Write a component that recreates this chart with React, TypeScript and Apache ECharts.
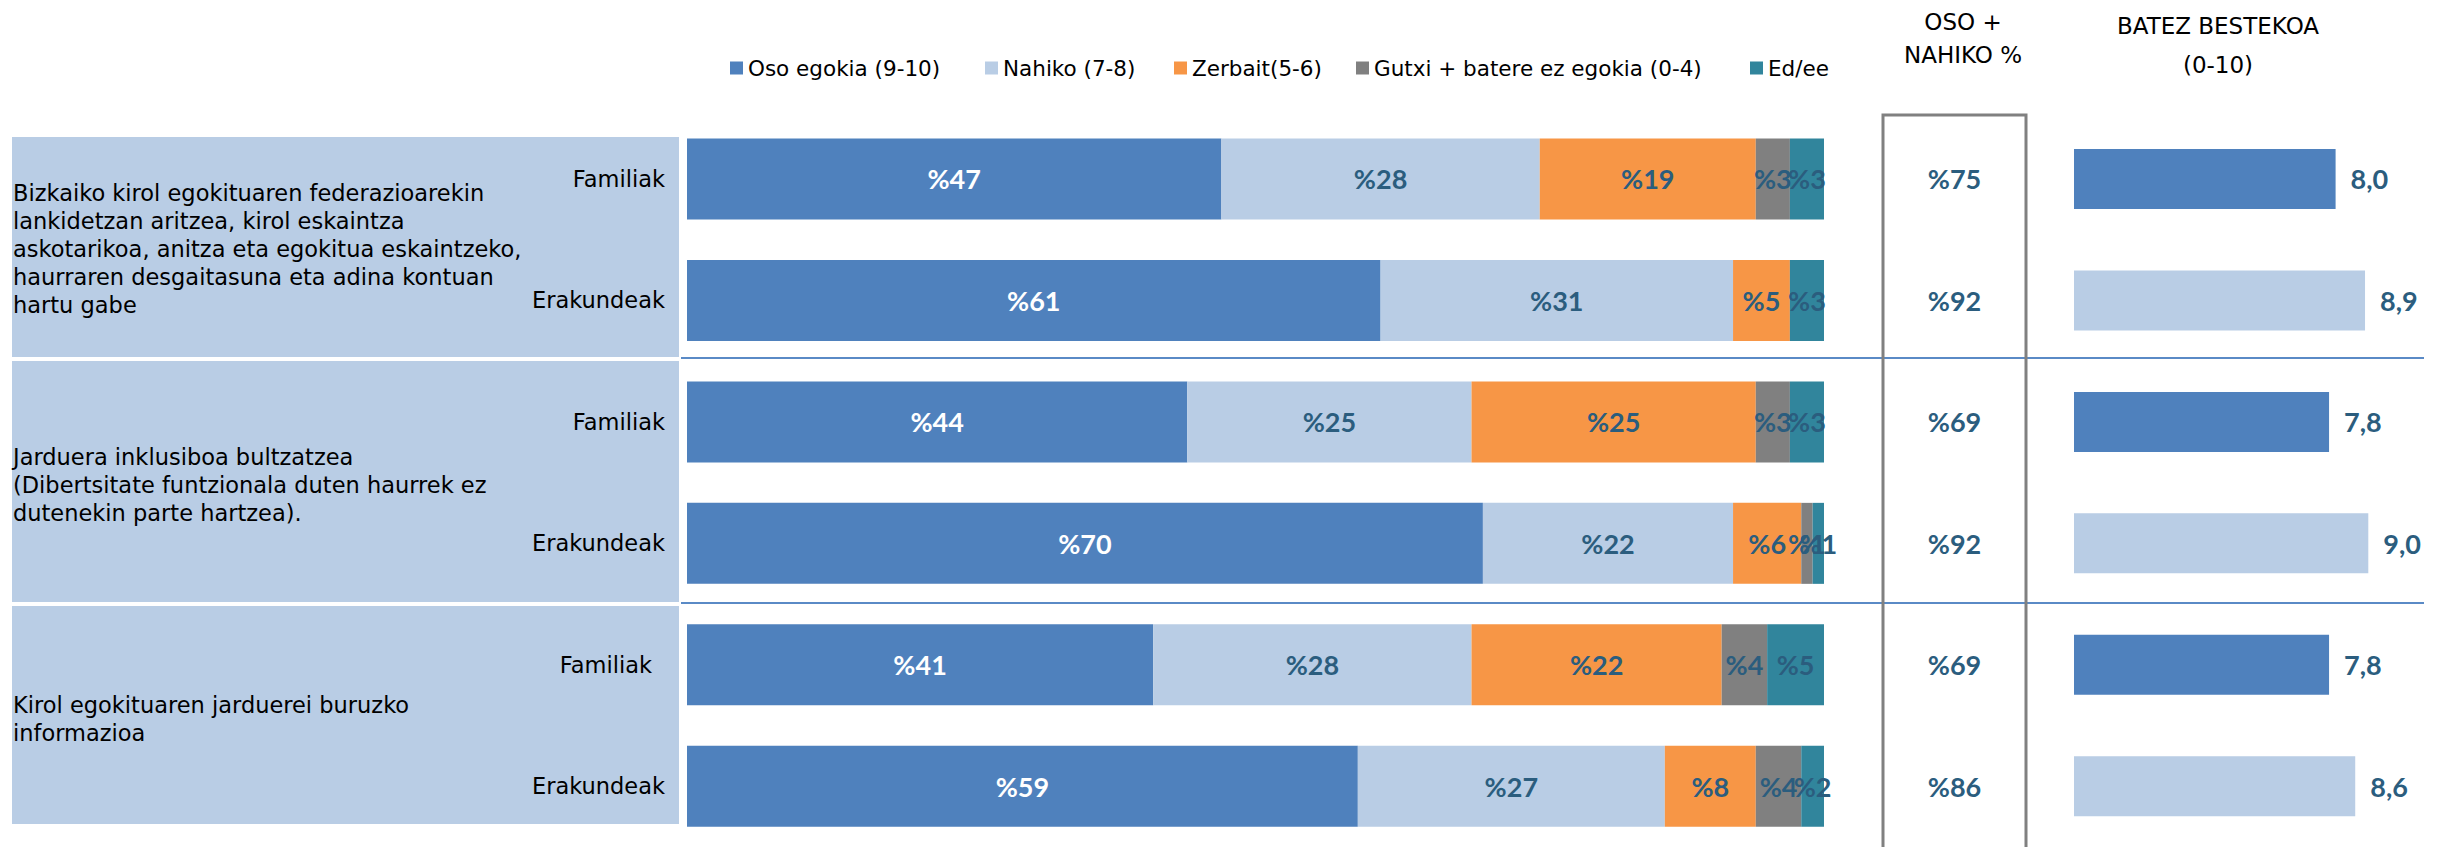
import React, { useEffect, useRef } from "react";
import * as echarts from "echarts";

// ---- data ----
const legendNames = [
  "Oso egokia (9-10)",
  "Nahiko (7-8)",
  "Zerbait(5-6)",
  "Gutxi + batere ez egokia (0-4)",
  "Ed/ee",
];
const groupTexts = [
  "Bizkaiko kirol egokituaren federazioarekin\nlankidetzan aritzea, kirol eskaintza\naskotarikoa, anitza eta egokitua eskaintzeko,\nhaurraren desgaitasuna eta adina kontuan\nhartu gabe",
  "Jarduera inklusiboa bultzatzea\n(Dibertsitate funtzionala duten haurrek ez\ndutenekin parte hartzea).",
  "Kirol egokituaren jarduerei buruzko\ninformazioa",
];
const rowTypes = ["Familiak", "Erakundeak", "Familiak", "Erakundeak", "Familiak", "Erakundeak"];
const osoEgokia = [47, 61, 44, 70, 41, 59];
const nahiko = [28, 31, 25, 22, 28, 27];
const zerbait = [19, 5, 25, 6, 22, 8];
const gutxi = [3, 0, 3, 1, 4, 4];
const edee = [3, 3, 3, 1, 5, 2];
const osoNahiko = [75, 92, 69, 92, 69, 86];
const batezBestekoa = [8.0, 8.9, 7.8, 9.0, 7.8, 8.6];
const headerOso = ["OSO +", "NAHIKO %"];
const headerBatez = ["BATEZ BESTEKOA", "(0-10)"];

// ---- style ----
const seriesColors = ["#4f81bd", "#b9cde5", "#f79646", "#808080", "#31859c"];
const labelDark = "#2b5d7e";
const regularFont = "DejaVu Sans";
const boldFont = "Lato";

export default function App() {
  const ref = useRef<HTMLDivElement>(null);

  useEffect(() => {
    if (!ref.current) return;
    const chart = echarts.init(ref.current, undefined, { renderer: "svg" });
    const rowKeys = rowTypes.map((t, i) => `${i}|${t}`);
    const stackData = [osoEgokia, nahiko, zerbait, gutxi, edee];

    const gridTop = 118.25;
    const gridHeight = 729;

    const legendLefts = [730, 985, 1174, 1356, 1750];

    const boxes = [
      { y: 137, h: 220, cy: 249 },
      { y: 361, h: 241, cy: 485 },
      { y: 606, h: 218, cy: 719 },
    ];

    const graphic: any[] = [];
    boxes.forEach((b, i) => {
      graphic.push({
        type: "rect",
        z: -5,
        shape: { x: 12, y: b.y, width: 667, height: b.h },
        style: { fill: "#b9cde5" },
      });
      graphic.push({
        type: "text",
        z: 5,
        x: 13,
        y: b.cy,
        style: {
          text: groupTexts[i],
          fill: "#000",
          font: `22.5px "${regularFont}"`,
          lineHeight: 28,
          textAlign: "left",
          textVerticalAlign: "middle",
        },
      });
    });
    [358, 603].forEach((y) => {
      graphic.push({
        type: "line",
        shape: { x1: 681, y1: y, x2: 2424, y2: y },
        style: { stroke: "#5a8ac6", lineWidth: 2 },
      });
    });
    graphic.push({
      type: "rect",
      shape: { x: 1883, y: 115, width: 143, height: 800 },
      style: { fill: "none", stroke: "#808080", lineWidth: 3 },
    });
    [
      { t: headerOso[0], x: 1963, y: 22 },
      { t: headerOso[1], x: 1963, y: 55 },
      { t: headerBatez[0], x: 2218, y: 26 },
      { t: headerBatez[1], x: 2218, y: 65 },
    ].forEach((h) => {
      graphic.push({
        type: "text",
        x: h.x,
        y: h.y,
        style: {
          text: h.t,
          fill: "#000",
          font: `23px "${regularFont}"`,
          textAlign: "center",
          textVerticalAlign: "middle",
        },
      });
    });

    const valueLabel = {
      color: labelDark,
      fontFamily: boldFont,
      fontWeight: "bold",
      fontSize: 27,
      textBorderWidth: 0,
    };

    const stackSeries = legendNames.map((name, si) => ({
      name,
      type: "bar",
      stack: "total",
      xAxisIndex: 0,
      yAxisIndex: 0,
      barWidth: 81,
      itemStyle: { color: seriesColors[si] },
      label: {
        show: true,
        position: "inside",
        formatter: (p: any) => (p.value > 0 ? `%${p.value}` : ""),
        ...valueLabel,
        color: si === 0 ? "#ffffff" : labelDark,
      },
      data: stackData[si],
    }));

    const option: any = {
      animation: false,
      backgroundColor: "#ffffff",
      grid: [
        { left: 687, width: 1137, top: gridTop, height: gridHeight },
        { left: 1883, width: 143, top: gridTop, height: gridHeight },
        { left: 2074, width: 327, top: gridTop, height: gridHeight },
      ],
      legend: legendNames.map((n, i) => ({
        data: [{ name: n, icon: "rect" }],
        left: legendLefts[i],
        top: 55,
        padding: 0,
        itemWidth: 13,
        itemHeight: 13,
        selectedMode: false,
        textStyle: {
          fontFamily: regularFont,
          fontSize: 21.5,
          color: "#000",
          lineHeight: 26,
        },
      })),
      xAxis: [
        { type: "value", gridIndex: 0, min: 0, max: 100, show: false },
        { type: "value", gridIndex: 1, min: 0, max: 1, show: false },
        { type: "value", gridIndex: 2, min: 0, max: 10, show: false },
      ],
      yAxis: [
        {
          type: "category",
          gridIndex: 0,
          data: rowKeys,
          inverse: true,
          axisLine: { show: false },
          axisTick: { show: false },
          splitLine: { show: false },
          axisLabel: {
            margin: 22,
            formatter: (v: string, idx: number) => {
              const name = v.split("|")[1];
              return idx === 4 ? `{s|${name}}` : name;
            },
            color: "#000",
            fontFamily: regularFont,
            fontSize: 22.5,
            rich: {
              s: {
                color: "#000",
                fontFamily: regularFont,
                fontSize: 22.5,
                padding: [0, 13, 0, 0],
              },
            },
          },
        },
        { type: "category", gridIndex: 1, data: rowKeys, inverse: true, show: false },
        { type: "category", gridIndex: 2, data: rowKeys, inverse: true, show: false },
      ],
      series: [
        ...stackSeries,
        {
          type: "scatter",
          xAxisIndex: 1,
          yAxisIndex: 1,
          symbolSize: 1,
          itemStyle: { color: "#ffffff", opacity: 1 },
          label: {
            show: true,
            position: "inside",
            formatter: (p: any) => `%${osoNahiko[p.dataIndex]}`,
            ...valueLabel,
            opacity: 1,
          },
          emphasis: { disabled: true },
          data: osoNahiko.map((_, i) => [0.5, i]),
        },
        {
          type: "bar",
          xAxisIndex: 2,
          yAxisIndex: 2,
          barWidth: 60,
          data: batezBestekoa.map((v, i) => ({
            value: v,
            itemStyle: { color: i % 2 === 0 ? seriesColors[0] : seriesColors[1] },
          })),
          label: {
            show: true,
            position: "right",
            distance: 15,
            formatter: (p: any) => Number(p.value).toFixed(1).replace(".", ","),
            ...valueLabel,
          },
        },
      ],
      graphic,
    };

    chart.setOption(option);
    return () => chart.dispose();
  }, []);

  return (
    <div
      ref={ref}
      style={{ position: "absolute", left: 0, top: 0, width: 2443, height: 847 }}
    />
  );
}
